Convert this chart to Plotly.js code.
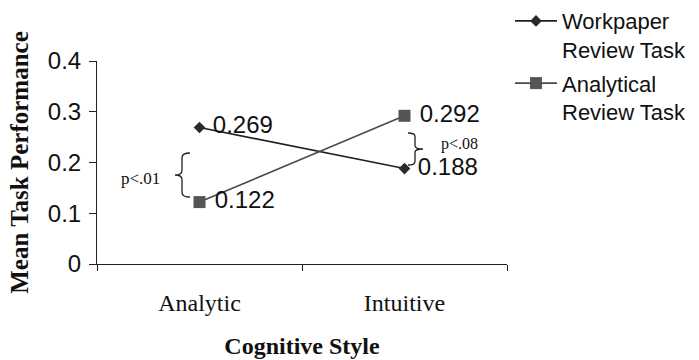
<!DOCTYPE html>
<html>
<head>
<meta charset="utf-8">
<script src="https://cdn.plot.ly/plotly-3.0.1.min.js"></script>
<style>html,body{margin:0;padding:0;background:#fff;}#chart{width:699px;height:360px;}</style>
</head>
<body>
<div id="chart"></div>
<script>
const categories = ["Analytic", "Intuitive"];
const workpaperValues = [0.269, 0.188];
const analyticalValues = [0.122, 0.292];
const seriesNames = ["Workpaper<br>Review Task", "Analytical<br>Review Task"];
const yTickVals = [0, 0.1, 0.2, 0.3, 0.4];
const yTickText = ["0", "0.1", "0.2", "0.3", "0.4"];
const pNotes = ["p<.01", "p<.08"];

const fmt = v => " " + v.toFixed(3);
const SANS = "Liberation Sans, Arial, sans-serif";
const SERIF = "Liberation Serif, Times New Roman, serif";

const traces = [
  {
    x: categories, y: workpaperValues, name: seriesNames[0], legendgroup: "wp",
    type: "scatter", mode: "lines+markers+text",
    text: workpaperValues.map(fmt), textposition: "middle right",
    textfont: {family: SANS, size: 24, color: "#111"},
    line: {color: "#222", width: 1.6},
    marker: {symbol: "diamond", size: 9, color: "#2a2a2a"}
  },
  {
    x: categories, y: analyticalValues, name: seriesNames[1], legendgroup: "ar",
    type: "scatter", mode: "lines+markers+text",
    text: analyticalValues.map(fmt), textposition: "middle right",
    textfont: {family: SANS, size: 24, color: "#111"},
    line: {color: "#4a4a4a", width: 1.6},
    marker: {symbol: "square", size: 12, color: "#555"}
  }
];

// brace helper: paper x, data y
function brace(xv, xTip, xEnd, yTop, yBot) {
  const ym = (yTop + yBot) / 2, r = (yTop - yBot) * 0.11;
  return `M ${xEnd},${yTop} Q ${xv},${yTop} ${xv},${yTop - r} L ${xv},${ym + r} Q ${xv},${ym} ${xTip},${ym} Q ${xv},${ym} ${xv},${ym - r} L ${xv},${yBot + r} Q ${xv},${yBot} ${xEnd},${yBot}`;
}

const layout = {
  width: 699, height: 360,
  margin: {l: 97, r: 192, t: 61, b: 96, autoexpand: false},
  paper_bgcolor: "#fff", plot_bgcolor: "#fff",
  showlegend: true,
  legend: {
    x: 1.0073, xanchor: "left", y: 1.30, yanchor: "top", valign: "top",
    font: {family: SANS, size: 22, color: "#111"},
    tracegroupgap: 2, itemwidth: 42, bgcolor: "rgba(0,0,0,0)"
  },
  xaxis: {
    type: "category", range: [-0.5, 1.5],
    showline: true, linecolor: "#222", linewidth: 1,
    ticks: "outside", tickson: "boundaries", ticklen: 6, tickcolor: "#222",
    showgrid: false, zeroline: false,
    tickfont: {family: SERIF, size: 24, color: "#111"},
    ticklabelstandoff: 17,
    title: {text: "<b>Cognitive Style</b>", font: {family: SERIF, size: 24, color: "#111"}, standoff: 22}
  },
  yaxis: {
    range: [0, 0.4], tickvals: yTickVals, ticktext: yTickText,
    showline: true, linecolor: "#222", linewidth: 1,
    ticks: "outside", ticklen: 7, tickcolor: "#222",
    showgrid: false, zeroline: false,
    tickfont: {family: SANS, size: 24, color: "#111"},
    ticklabelstandoff: 3,
    title: {text: "<b>Mean Task Performance</b>", font: {family: SERIF, size: 25, color: "#111"}, standoff: 12}
  },
  shapes: [
    {type: "path", xref: "paper", yref: "y",
     path: brace(0.2073, 0.1902, 0.2268, 0.2187, 0.1320),
     line: {color: "#222", width: 1.3}},
    {type: "path", xref: "paper", yref: "y",
     path: brace(0.7756, 0.7951, 0.7585, 0.2581, 0.1951),
     line: {color: "#222", width: 1.3}}
  ],
  annotations: [
    {xref: "paper", yref: "y", x: 0.105, y: 0.169, xanchor: "center", yanchor: "middle",
     text: pNotes[0], showarrow: false,
     font: {family: SERIF, size: 17, color: "#111"}},
    {xref: "paper", yref: "y", x: 0.884, y: 0.237, xanchor: "center", yanchor: "middle",
     text: pNotes[1], showarrow: false,
     font: {family: SERIF, size: 16, color: "#111"}}
  ]
};

Plotly.newPlot("chart", traces, layout, {displayModeBar: false, staticPlot: true});
</script>
</body>
</html>
